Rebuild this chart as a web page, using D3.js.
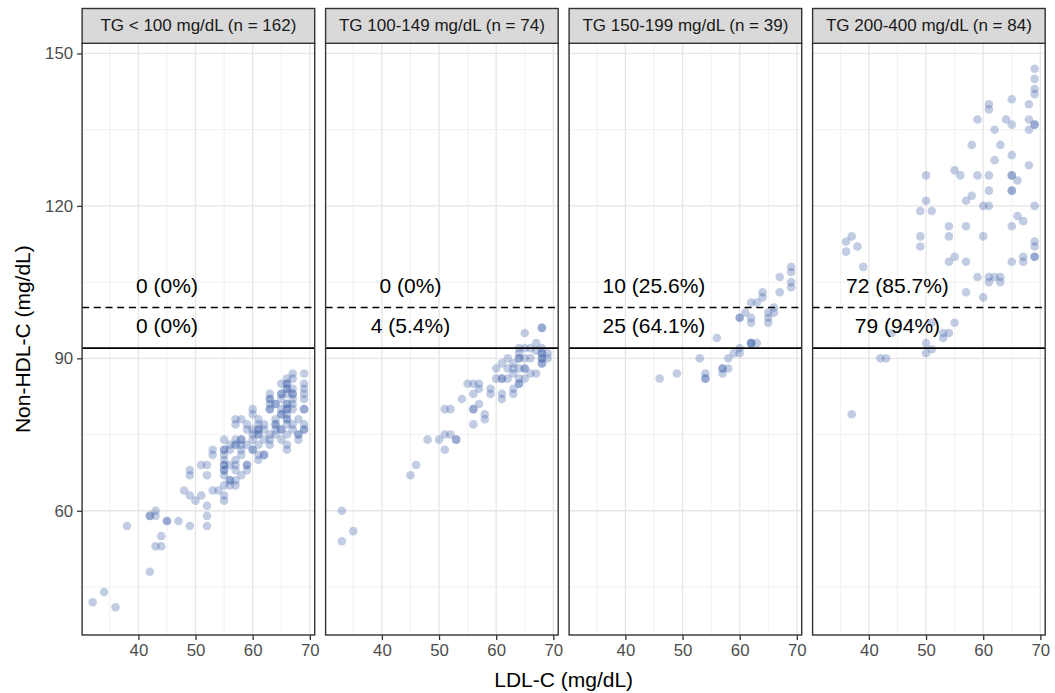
<!DOCTYPE html>
<html>
<head>
<meta charset="utf-8">
<script src="https://cdn.jsdelivr.net/npm/d3@7"></script>
<style>
  html, body { margin: 0; padding: 0; background: #fff; }
  svg { display: block; font-family: "Liberation Sans", Arial, Helvetica, sans-serif; }
</style>
</head>
<body>
<svg id="chart" width="1055" height="693"></svg>
<script>
// ---------------- DATA ----------------
const panelTitles = ["TG < 100 mg/dL (n = 162)", "TG 100-149 mg/dL (n = 74)", "TG 150-199 mg/dL (n = 39)", "TG 200-400 mg/dL (n = 84)"];
const upperLabels = ["0 (0%)", "0 (0%)", "10 (25.6%)", "72 (85.7%)"];
const lowerLabels = ["0 (0%)", "4 (5.4%)", "25 (64.1%)", "79 (94%)"];
const dashedCut = 100;
const solidCut = 92;
const labelX = 45;
const upperLabelY = 104.4;
const lowerLabelY = 96.5;
const xTicks = [40, 50, 60, 70];
const xMinor = [35, 45, 55, 65];
const yTicks = [60, 90, 120, 150];
const yMinor = [45, 75, 105, 135];
const xDomain = [30.15, 70.85];
const yDomain = [35.55, 152.0];

// [LDL-C, Non-HDL-C]
const tgLt100 = [
  [67,87],[69,87],[66,86],[67,86],[65,85],[66,85],[69,85],[66,84],[67,84],[69,84],
  [63,83],[65,83],[66,83],[67,83],[69,83],[63,82],[65,82],[67,82],[69,82],
  [63,81],[64,81],[66,81],[67,81],[60,80],[63,80],[65,80],[66,80],[67,80],[69,80],
  [60,79],[65,79],[66,79],[57,78],[58,78],[61,78],[64,78],[66,78],[68,78],
  [57,77],[59,77],[61,77],[62,77],[64,77],[66,77],[67,77],[69,77],
  [59,76],[60,76],[61,76],[62,76],[64,76],[65,76],[67,76],[69,76],
  [60,75],[61,75],[63,75],[64,75],[66,75],[68,75],
  [55,74],[57,74],[58,74],[60,74],[62,74],[63,74],[65,74],[68,74],
  [56,73],[57,73],[58,73],[59,73],[61,73],[63,73],[66,73],
  [53,72],[55,72],[56,72],[58,72],[60,72],[66,72],
  [53,71],[55,71],[58,71],[61,71],[62,71],[55,70],[57,70],[61,70],
  [51,69],[52,69],[55,69],[56,69],[57,69],[59,69],[49,68],[55,68],[57,68],[59,68],
  [49,67],[52,67],[55,67],[58,67],[56,66],[57,66],[55,65],[56,65],[57,65],
  [48,64],[53,64],[54,64],[49,63],[51,63],[55,63],[50,62],[55,62],[52,61],
  [43,60],[42,59],[43,59],[52,59],[45,58],[45,58],[47,58],[38,57],[49,57],[52,57],
  [44,55],[43,53],[44,53],[42,48],[34,44],[32,42],[36,41],
  [66,84],[65,79],[66,80],[62,71],[58,74],[55,69],[55,68],[56,66],[42,59],[69,76],
  [67,83],[65,83],[63,82],[66,81],[64,77],[61,75],[66,78],[60,72],[57,73],[65,76],
  [63,80],[66,85],[59,69],[55,72],[69,80],[64,81],[61,76],[68,75]
];
const tg100to149 = [
  [33,60],[33,54],[35,56],[45,67],[46,69],[48,74],[50,74],[51,72],[51,75],[52,75],
  [53,74],[53,74],[51,80],[52,80],[54,82],[56,77],[56,80],[56,80],[57,81],[58,79],
  [58,78],[55,85],[56,85],[57,85],[56,83],[57,84],[59,84],[59,83],[60,86],[60,88],
  [61,86],[61,86],[61,83],[61,82],[61,89],[62,90],[62,86],[63,89],[63,87],[63,84],
  [63,83],[64,90],[64,90],[64,88],[64,86],[64,85],[64,85],[65,88],[65,88],[65,86],
  [64,92],[65,92],[65,95],[66,87],[67,87],[66,92],[67,93],[68,96],[68,96],[68,92],
  [68,91],[68,90],[68,89],[69,90],[68,90],[68,91],[67,91.5],[66,90],[65,90],[64,91],
  [69,91],[63,88],[62,88],[68,89]
];
const tg150to199 = [
  [46,86],[49,87],[54,87],[54,86],[54,86],[53,90],[56,94],[57,88],[57,87],[58,88],
  [58,90],[59,91],[60,92],[60,91],[60,98],[60,98],[62,93],[62,93],[63,93],[62,97],
  [62,98],[61,99],[62,101],[63,101],[64,102],[64,103],[65,99],[65,98],[65,97],[66,100],
  [66,99],[67,103],[67,106],[69,108],[69,107],[69,105],[69,104],[57,88],[62,93]
];
const tg200to400 = [
  [69,147],[69,145],[69,143],[69,142],[61,140],[61,139],[65,141],[68,140],[59,137],[64,137],
  [65,136],[68,137],[69,136],[62,135],[68,135],[58,132],[63,132],[65,130],[62,129],[68,128],
  [50,126],[55,127],[56,126],[59,126],[61,126],[65,126],[66,125],[65,123],[65,123],[61,123],
  [58,122],[57,121],[60,120],[61,120],[69,120],[50,121],[49,119],[51,119],[66,118],[67,117],
  [54,116],[57,116],[65,116],
  [36,113],[37,114],[36,111],[38,112],[39,108],[49,114],[49,112],[54,114],[60,114],[69,113],
  [69,112],[69,110],[69,110],[67,110],[67,109],[65,109],[54,109],[55,110],[57,109],[59,106],
  [61,106],[61,105],[62,106],[63,106],[63,105],[57,103],[60,102],[55,97],[54,95],[53,95],
  [53,94],[44,95],[50,93],[51,91.8],[50,91],[51,97],[42,90],[43,90],[37,79],
  [65,126],[69,136]
];
const panelData = [tgLt100, tg100to149, tg150to199, tg200to400];

// ---------------- LAYOUT ----------------
const svg = d3.select("#chart");
const panelLeft0 = 82.1, panelW = 232.6, panelGap = 10.9;
const plotTop = 43.3, plotBottom = 635, stripTop = 8.5;
const fontTick = 16.8, fontStrip = 17, fontTitle = 21, fontLabel = 21;

const y = d3.scaleLinear().domain(yDomain).range([plotBottom, plotTop]);

panelData.forEach((pts, i) => {
  const left = panelLeft0 + i * (panelW + panelGap);
  const x = d3.scaleLinear().domain(xDomain).range([left, left + panelW]);
  const g = svg.append("g");

  g.append("rect").attr("x", left).attr("y", plotTop).attr("width", panelW)
    .attr("height", plotBottom - plotTop).attr("fill", "#fff");

  g.selectAll(".vminor").data(xMinor).join("line")
    .attr("x1", d => x(d)).attr("x2", d => x(d)).attr("y1", plotTop).attr("y2", plotBottom)
    .attr("stroke", "#ebebeb").attr("stroke-width", 0.7);
  g.selectAll(".hminor").data(yMinor).join("line")
    .attr("x1", left).attr("x2", left + panelW).attr("y1", d => y(d)).attr("y2", d => y(d))
    .attr("stroke", "#ebebeb").attr("stroke-width", 0.7);
  g.selectAll(".vmajor").data(xTicks).join("line")
    .attr("x1", d => x(d)).attr("x2", d => x(d)).attr("y1", plotTop).attr("y2", plotBottom)
    .attr("stroke", "#e6e6e6").attr("stroke-width", 1.3);
  g.selectAll(".hmajor").data(yTicks).join("line")
    .attr("x1", left).attr("x2", left + panelW).attr("y1", d => y(d)).attr("y2", d => y(d))
    .attr("stroke", "#e6e6e6").attr("stroke-width", 1.3);

  g.append("g").selectAll("circle").data(pts).join("circle")
    .attr("cx", d => x(d[0])).attr("cy", d => y(d[1])).attr("r", 4.3)
    .attr("fill", "#3b5ea8").attr("fill-opacity", 0.31);

  g.append("line").attr("x1", left).attr("x2", left + panelW)
    .attr("y1", y(dashedCut)).attr("y2", y(dashedCut))
    .attr("stroke", "#000").attr("stroke-width", 1.6).attr("stroke-dasharray", "7,4.7");
  g.append("line").attr("x1", left).attr("x2", left + panelW)
    .attr("y1", y(solidCut)).attr("y2", y(solidCut))
    .attr("stroke", "#000").attr("stroke-width", 1.6);

  g.append("text").attr("x", x(labelX)).attr("y", y(upperLabelY))
    .attr("text-anchor", "middle").attr("dominant-baseline", "central")
    .attr("font-size", fontLabel).attr("fill", "#000").text(upperLabels[i]);
  g.append("text").attr("x", x(labelX)).attr("y", y(lowerLabelY))
    .attr("text-anchor", "middle").attr("dominant-baseline", "central")
    .attr("font-size", fontLabel).attr("fill", "#000").text(lowerLabels[i]);

  g.append("rect").attr("x", left).attr("y", plotTop).attr("width", panelW)
    .attr("height", plotBottom - plotTop).attr("fill", "none")
    .attr("stroke", "#333").attr("stroke-width", 1.4);

  g.append("rect").attr("x", left).attr("y", stripTop).attr("width", panelW)
    .attr("height", plotTop - stripTop).attr("fill", "#d9d9d9")
    .attr("stroke", "#333").attr("stroke-width", 1.4);
  g.append("text").attr("x", left + panelW / 2).attr("y", (stripTop + plotTop) / 2)
    .attr("text-anchor", "middle").attr("dominant-baseline", "central")
    .attr("font-size", fontStrip).attr("fill", "#1a1a1a").text(panelTitles[i]);

  const xAxis = d3.axisBottom(x).tickValues(xTicks).tickSize(5).tickPadding(4);
  const ax = g.append("g").attr("transform", `translate(0,${plotBottom})`).call(xAxis);
  ax.select(".domain").remove();
  ax.selectAll(".tick line").attr("stroke", "#333").attr("stroke-width", 1.3);
  ax.selectAll(".tick text").attr("font-size", fontTick).attr("fill", "#4d4d4d")
    .attr("font-family", "Liberation Sans, Arial, sans-serif");

  if (i === 0) {
    const yAxis = d3.axisLeft(y).tickValues(yTicks).tickSize(5).tickPadding(4);
    const ay = g.append("g").attr("transform", `translate(${left},0)`).call(yAxis);
    ay.select(".domain").remove();
    ay.selectAll(".tick line").attr("stroke", "#333").attr("stroke-width", 1.3);
    ay.selectAll(".tick text").attr("font-size", fontTick).attr("fill", "#4d4d4d")
      .attr("font-family", "Liberation Sans, Arial, sans-serif");
  }
});

const lastRight = panelLeft0 + 4 * panelW + 3 * panelGap;
svg.append("text").attr("x", (panelLeft0 + lastRight) / 2).attr("y", 687)
  .attr("text-anchor", "middle").attr("font-size", fontTitle).attr("fill", "#000")
  .text("LDL-C (mg/dL)");
svg.append("text")
  .attr("transform", `translate(30,${(plotTop + plotBottom) / 2}) rotate(-90)`)
  .attr("text-anchor", "middle").attr("font-size", fontTitle).attr("fill", "#000")
  .text("Non-HDL-C (mg/dL)");
</script>
</body>
</html>
